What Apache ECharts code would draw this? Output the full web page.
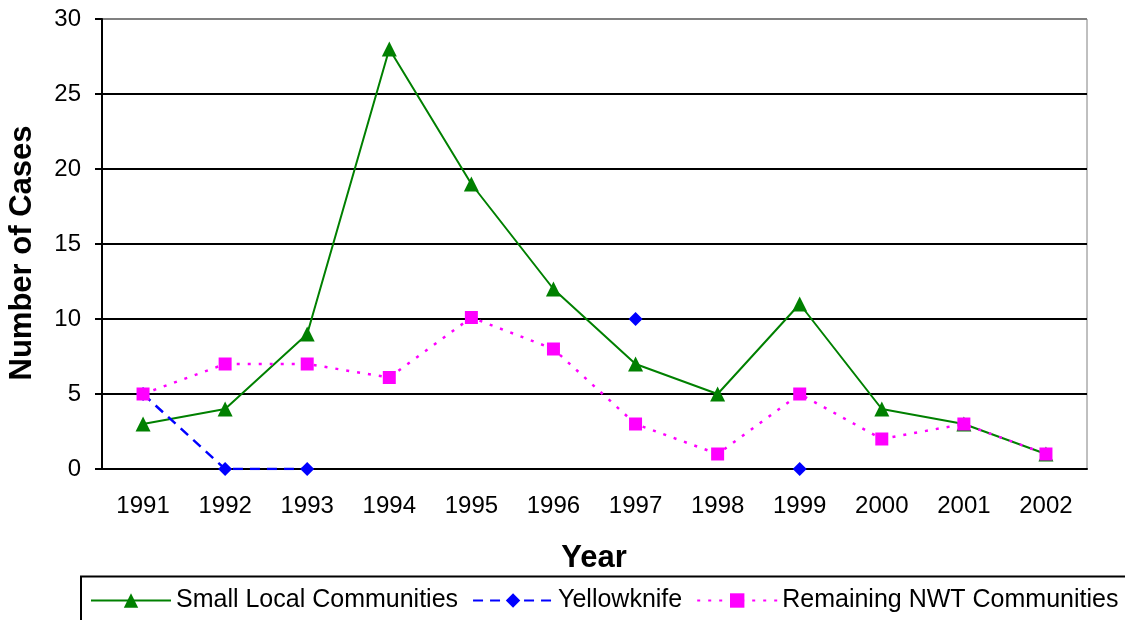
<!DOCTYPE html>
<html>
<head>
<meta charset="utf-8">
<script src="https://cdn.jsdelivr.net/npm/echarts@6/dist/echarts.min.js"></script>
<style>
html, body { margin: 0; padding: 0; background: #fff; }
#chart { width: 1125px; height: 620px; }
</style>
</head>
<body>
<div id="chart"></div>
<script>
// 年份
var years = ["1991", "1992", "1993", "1994", "1995", "1996", "1997", "1998", "1999", "2000", "2001", "2002"];
// 各组病例数
var smallLocal = [3, 4, 9, 28, 19, 12, 7, 5, 11, 4, 3, 1];
var yellowknife = [5, 0, 0, null, null, null, 10, null, 0, null, null, null];
var remainingNWT = [5, 7, 7, 6.1, 10.1, 8, 3, 1, 5, 2, 3, 1];

var font = "'Liberation Sans', Arial, sans-serif";
var myChart = echarts.init(document.getElementById("chart"));

var option = {
    animation: false,
    textStyle: { fontFamily: font },
    grid: {
        left: 102, right: 38, top: 19, bottom: 151,
        containLabel: false,
        outerBoundsMode: "none",
        show: true, borderColor: "#808080", borderWidth: 1
    },
    legend: {
        left: 85, top: 583, width: 1100,
        itemWidth: 80, itemHeight: 18, itemGap: 14,
        textStyle: { fontFamily: font, fontSize: 25, color: "#000" },
        data: ["Small Local Communities", "Yellowknife", "Remaining NWT Communities"]
    },
    graphic: [
        {
            // 图例外框
            type: "rect",
            shape: { x: 81, y: 576.5, width: 1060, height: 60 },
            style: { fill: "none", stroke: "#000", lineWidth: 2 },
            z: -1
        },
        {
            type: "text",
            x: 594, y: 558,
            style: {
                text: "Year", fontFamily: font, fontSize: 31, fontWeight: "bold",
                fill: "#000", align: "center", verticalAlign: "middle"
            }
        },
        {
            type: "text",
            x: 22, y: 253,
            rotation: Math.PI / 2,
            style: {
                text: "Number of Cases", fontFamily: font, fontSize: 31, fontWeight: "bold",
                fill: "#000", align: "center", verticalAlign: "middle"
            }
        }
    ],
    xAxis: {
        type: "category",
        data: years,
        axisLine: { lineStyle: { color: "#000", width: 2 } },
        axisTick: { length: 8, lineStyle: { color: "#000", width: 2 } },
        axisLabel: { fontFamily: font, fontSize: 24, color: "#000", margin: 25 }
    },
    yAxis: {
        type: "value",
        min: 0, max: 30, interval: 5,
        axisLine: { show: true, lineStyle: { color: "#000", width: 2 } },
        axisTick: { show: true, length: 7, lineStyle: { color: "#000", width: 2 } },
        axisLabel: { fontFamily: font, fontSize: 24, color: "#000", margin: 21 },
        splitLine: { lineStyle: { color: ["#000", "#000", "#000", "#000", "#000", "#000", "#808080"], width: 2 } }
    },
    series: [
        {
            name: "Small Local Communities",
            type: "line",
            data: smallLocal,
            symbol: "triangle",
            symbolSize: 15,
            color: "#008000",
            lineStyle: { color: "#008000", width: 2 }
        },
        {
            name: "Yellowknife",
            type: "line",
            data: yellowknife,
            symbol: "diamond",
            symbolSize: 14,
            color: "#0000ff",
            lineStyle: { color: "#0000ff", width: 2.5, type: [10, 7] }
        },
        {
            name: "Remaining NWT Communities",
            type: "line",
            data: remainingNWT,
            symbol: "rect",
            symbolSize: 13,
            color: "#ff00ff",
            lineStyle: { color: "#ff00ff", width: 2.5, type: [3, 8] }
        }
    ]
};

myChart.setOption(option, true);
</script>
</body>
</html>
